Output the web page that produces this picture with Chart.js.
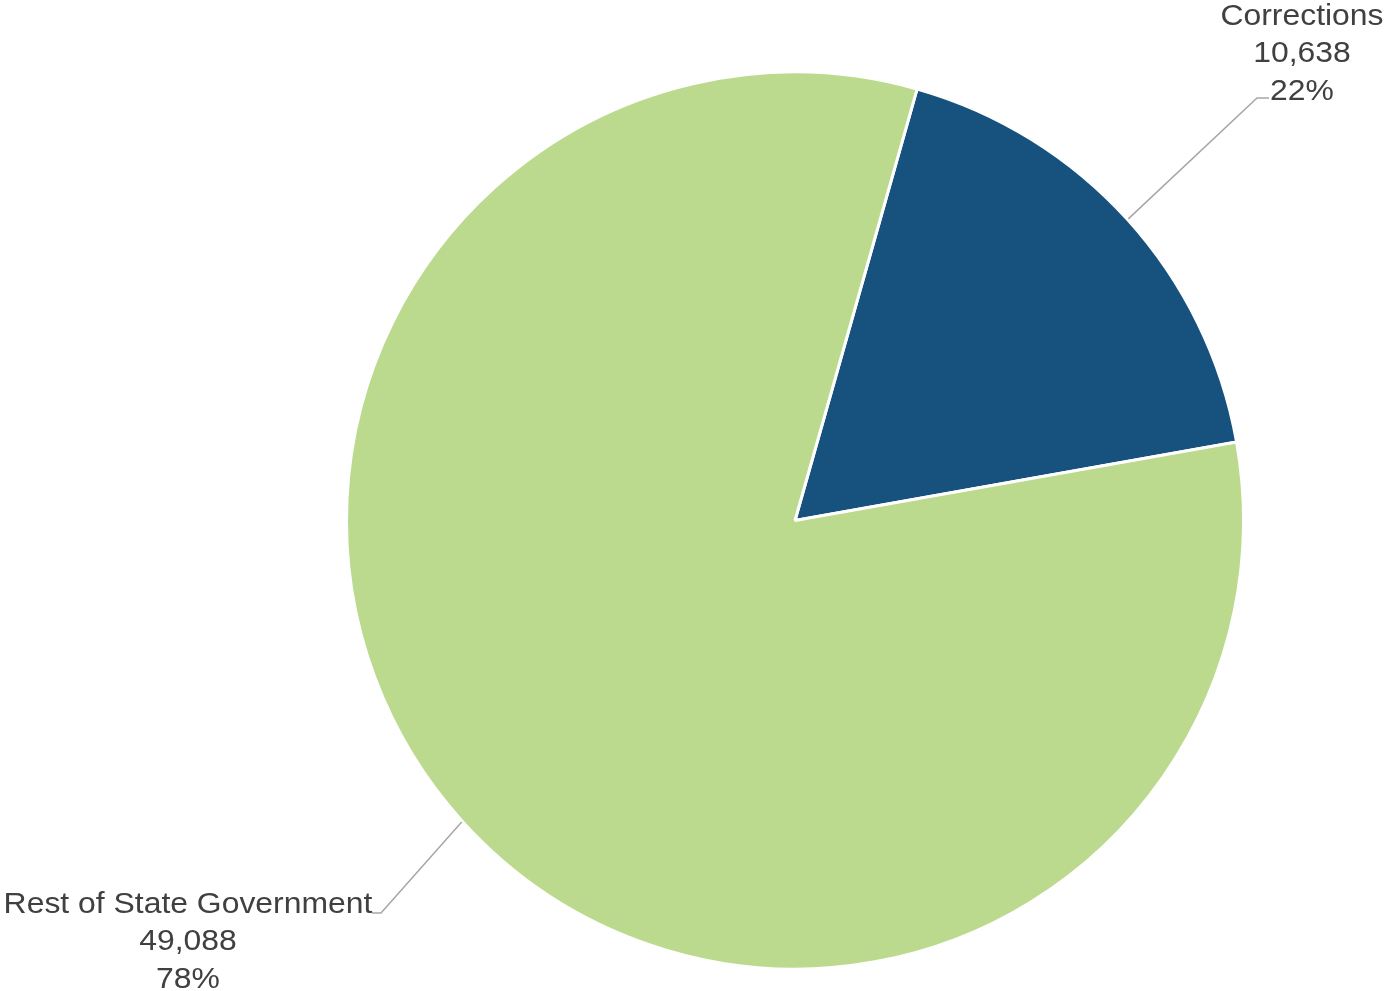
<!DOCTYPE html>
<html>
<head>
<meta charset="utf-8">
<script src="https://cdn.jsdelivr.net/npm/chart.js@4/dist/chart.umd.min.js"></script>
<style>
    html, body { margin: 0; padding: 0; background: #ffffff; }
    #wrap { width: 1384px; height: 991px; position: relative; }
</style>
</head>
<body>
<div id="wrap"><canvas id="pie-chart"></canvas></div>
<script>
// Chart data
const categories = ['Corrections', 'Rest of State Government'];
const employees = [10638, 49088];
const shareLabels = ['22%', '78%'];
const sliceColors = ['#17527E', '#BBDA8E'];

// Label placement (text centre x, first line y, elbow point) for each slice
const labelSpots = [
    { x: 1302, y: 16.5, elbowX: 1257, elbowY: 98, endX: 1269 },
    { x: 188, y: 904.5, elbowX: 381, elbowY: 913, endX: 372 }
];

// Draws the callout labels with leader lines
const calloutPlugin = {
    id: 'callouts',
    afterDatasetsDraw(chart) {
        const ctx = chart.ctx;
        const meta = chart.getDatasetMeta(0);
        ctx.save();
        meta.data.forEach((arc, i) => {
            const spot = labelSpots[i];
            const mid = (arc.startAngle + arc.endAngle) / 2;
            const r = arc.outerRadius + 1;
            const sx = arc.x + Math.cos(mid) * r;
            const sy = arc.y + Math.sin(mid) * r;

            ctx.strokeStyle = '#A6A6A6';
            ctx.lineWidth = 1.5;
            ctx.beginPath();
            ctx.moveTo(sx, sy);
            ctx.lineTo(spot.elbowX, spot.elbowY);
            ctx.lineTo(spot.endX, spot.elbowY);
            ctx.stroke();

            const lines = [
                categories[i],
                employees[i].toLocaleString('en-US'),
                shareLabels[i]
            ];
            ctx.fillStyle = '#404040';
            ctx.font = '29px "Liberation Sans", Arial, sans-serif';
            ctx.textAlign = 'center';
            ctx.textBaseline = 'middle';
            lines.forEach((txt, j) => {
                // glyphs in the original are a little wider than Liberation Sans
                ctx.save();
                ctx.translate(spot.x, spot.y + j * 37.5);
                ctx.scale(1.1, 1);
                ctx.fillText(txt, 0, 0);
                ctx.restore();
            });
        });
        ctx.restore();
    }
};

const pieChart = new Chart(document.getElementById('pie-chart'), {
    type: 'pie',
    data: {
        labels: categories,
        datasets: [{
            data: employees,
            backgroundColor: sliceColors,
            borderColor: '#ffffff',
            borderWidth: 3
        }]
    },
    options: {
        responsive: true,
        maintainAspectRatio: false,
        animation: false,
        rotation: 15.8,
        layout: {
            padding: { left: 345, right: 139, top: 69, bottom: 19 }
        },
        plugins: {
            legend: { display: false },
            tooltip: { enabled: false }
        }
    },
    plugins: [calloutPlugin]
});
</script>
</body>
</html>
